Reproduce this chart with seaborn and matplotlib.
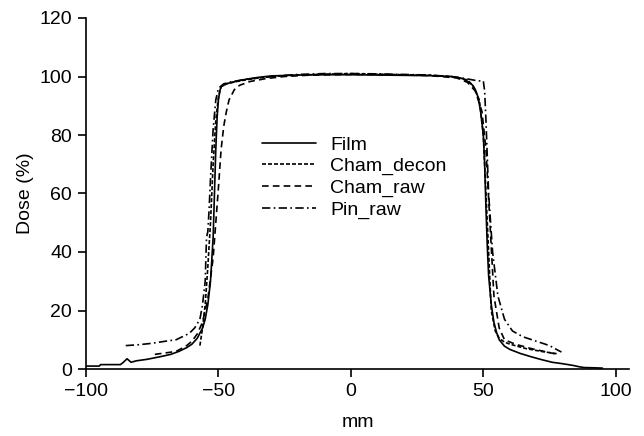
import numpy as np
import pandas as pd
import matplotlib
matplotlib.use("Agg")
import matplotlib.pyplot as plt
import seaborn as sns

# ---- data ----
film_x = [-100, -95, -94.5, -87, -86, -84.5, -83, -81, -77, -72, -68, -65, -62, -60, -58, -56, -55,
          -54, -53, -52, -51.5, -51, -50.5, -50, -49.5, -49, -47, -45, -40, -35, -30, -20, -10, 0,
          10, 20, 30, 38, 42, 44, 46, 47, 48, 49, 50, 50.5, 51, 51.5, 52, 53, 54, 55, 56, 58, 60,
          64, 68, 72, 76, 80, 84, 86, 88, 92, 95]
film_y = [1.0, 1.0, 1.5, 1.5, 2.2, 3.5, 2.3, 2.8, 3.3, 4.2, 5.0, 6.0, 7.3, 8.5, 10.5, 14, 17,
          22, 30, 45, 60, 75, 86, 92, 95, 96.5, 97.5, 98, 99, 99.7, 100.2, 100.5, 100.6, 100.6,
          100.5, 100.4, 100.3, 100, 99.3, 98.4, 97, 95.5, 93, 88, 80, 70, 55, 42, 32, 22, 16, 12.5,
          10, 7.8, 6.7, 5.3, 4.2, 3.2, 2.3, 1.8, 1.2, 0.8, 0.5, 0.4, 0.3]

decon_x = [-57, -56, -55, -54, -53, -52, -51, -50, -49, -47, -42, -35, -25, -10, 0, 10, 20, 30,
           38, 42, 44, 46, 48.5, 50, 51.5, 53, 54.5, 56, 58, 60, 66, 72, 78]
decon_y = [8, 14, 22, 35, 50, 70, 85, 93, 96.5, 97.5, 98.5, 99.5, 100.3, 100.8, 101, 100.8,
           100.6, 100.4, 100, 99.3, 98.8, 97, 92, 80, 50, 20, 13, 10.5, 9.2, 8.5, 7.0, 6.0, 5.2]

raw_x = [-74, -70, -66, -62, -60, -58, -56, -54, -52, -51, -50, -49, -48, -47, -46, -44, -42,
         -38, -32, -25, -15, 0, 15, 30, 40, 44, 47, 49.5, 51, 52.5, 54, 56, 58, 62, 68, 74, 77]
raw_y = [5, 5.5, 6, 8, 9.5, 12, 16, 24, 38, 50, 62, 75, 83, 88, 92, 95.5, 97, 98.3, 99.3,
         100, 100.5, 100.7, 100.6, 100.3, 99.5, 98, 95, 88, 75, 50, 25, 14, 10, 8.5, 7, 5.8, 5.2]

pin_x = [-85, -80, -75, -70, -66, -63, -61, -59, -57, -56, -55, -54.5, -54, -53.5, -53, -52,
         -51, -50, -48, -45, -40, -30, -20, -10, 0, 10, 20, 30, 40, 45, 48, 50, 50.5, 51, 52,
         53.5, 55.5, 58, 61, 65, 70, 75, 78, 79.5]
pin_y = [8, 8.3, 8.8, 9.5, 10, 11.3, 12.2, 14, 17, 22, 30, 45, 47, 55, 65, 82, 92, 96, 97.5,
         98.2, 99, 100, 100.7, 101, 101, 100.9, 100.7, 100.5, 99.8, 99, 98.5, 98.5, 95, 85, 60,
         40, 25, 17, 13, 11, 9.5, 8, 6.5, 5.8]

series_names = ["Film", "Cham_decon", "Cham_raw", "Pin_raw"]
x_ticks = [-100, -50, 0, 50, 100]
y_ticks = [0, 20, 40, 60, 80, 100, 120]

series = {
    "Film": (film_x, film_y),
    "Cham_decon": (decon_x, decon_y),
    "Cham_raw": (raw_x, raw_y),
    "Pin_raw": (pin_x, pin_y),
}
frames = []
for name in series_names:
    xs, ys = series[name]
    frames.append(pd.DataFrame({"mm": xs, "dose": ys, "series": name}))
df = pd.concat(frames, ignore_index=True)

sns.set_style("ticks")
plt.rcParams["font.family"] = ["Liberation Sans", "DejaVu Sans"]
plt.rcParams["text.color"] = "black"
plt.rcParams["axes.labelcolor"] = "black"
plt.rcParams["xtick.color"] = "black"
plt.rcParams["ytick.color"] = "black"
plt.rcParams["axes.edgecolor"] = "black"

fig = plt.figure(figsize=(6.44, 4.36), dpi=100)
ax = fig.add_axes([86 / 644, 1 - 369 / 436, (629 - 86) / 644, (369 - 18) / 436])

dash_map = {
    "Film": "",
    "Cham_decon": (2.4, 1.2),
    "Cham_raw": (4, 2.5),
    "Pin_raw": (5, 2, 1, 2),
}
sns.lineplot(data=df, x="mm", y="dose", style="series", style_order=series_names,
             dashes=dash_map, color="black", sort=False, estimator=None,
             linewidth=1.2, ax=ax, legend=True)

ax.set_xlim(-100, 105)
ax.set_ylim(0, 120)
ax.set_xticks(x_ticks)
ax.set_yticks(y_ticks)
ax.set_xticklabels(["\u2212100", "\u221250", "0", "50", "100"])
ax.tick_params(axis="both", labelsize=14, length=6, width=1.2, pad=4,
               color="black", labelcolor="black")
for s in ["top", "right"]:
    ax.spines[s].set_visible(False)
for s in ["left", "bottom"]:
    ax.spines[s].set_linewidth(1.2)
    ax.spines[s].set_color("black")
ax.set_xlabel("mm", fontsize=14, labelpad=10, color="black")
ax.set_ylabel("Dose (%)", fontsize=14, labelpad=4, color="black")

leg = ax.legend(loc="upper left", bbox_to_anchor=(262 / 644, 1 - 136 / 436),
                bbox_transform=fig.transFigure, frameon=False, fontsize=14,
                handlelength=2.8, handletextpad=0.7, labelspacing=0.2,
                borderpad=0, borderaxespad=0)
for t in leg.get_texts():
    t.set_color("black")
for h in leg.get_lines():
    h.set_linewidth(1.2)

fig.savefig("out.png", dpi=100)
